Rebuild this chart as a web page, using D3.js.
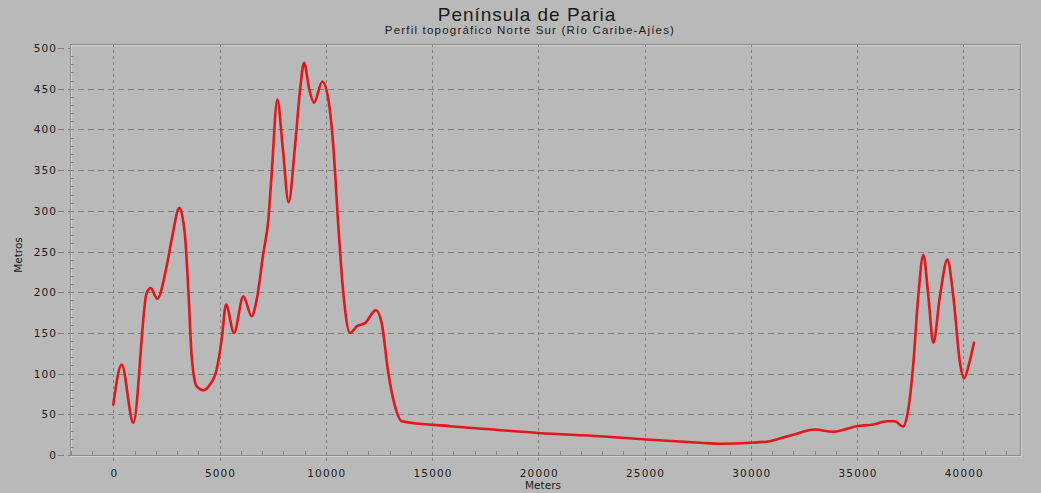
<!DOCTYPE html>
<html><head><meta charset="utf-8">
<script src="https://cdn.jsdelivr.net/npm/d3@7"></script>
<style>
html,body{margin:0;padding:0;background:#b9b9b9;}
svg{display:block;}
text{fill:#1a1a1a;}
</style></head>
<body>
<script>
const title = "Península de Paria";
const subtitle = "Perfil topográfico Norte Sur (Río Caribe-Ajíes)";
const xLabel = "Meters";
const yLabel = "Metros";
const xTicks = [0,5000,10000,15000,20000,25000,30000,35000,40000];
const yTicks = [0,50,100,150,200,250,300,350,400,450,500];
const distance = [0,395,941,1570,1760,2070,2510,2750,3110,3375,3530,3690,3925,4235,4550,4865,5100,5305,5680,6120,6510,6750,7060,7295,7455,7720,7970,8250,8550,8790,8975,9225,9445,9835,10120,10355,10590,10825,11140,11455,11845,12360,12630,12940,13255,13570,15845,18000,20000,22900,25100,27610,28550,30040,30900,32000,33020,33880,34980,35765,36395,36785,37150,37410,37650,37880,38120,38355,38590,38900,39250,39530,39845,40030,40280,40500];
const elevation = [62,111,39.6,199,205,192,232,265,303.7,269,203,121,84.5,79.6,86.6,105,142,185,150,195,170.5,191,248,289,346.7,436.7,379,310.6,379,449,481.8,449,432.7,459,436.7,379,281,199,150,158,162,178,162,101,60,41.5,35.4,31,27,23,19,15,13.8,15,17,25,31.3,28.5,35.4,37.5,41.5,41.5,35,56,113,195,246,195,138,195,240,195,113,94,113,138];

const W = 1041, H = 493;
const L = 70, R = 1020, T = 44, B = 455;
const svg = d3.select("body").append("svg").attr("width", W).attr("height", H);
svg.append("rect").attr("width", W).attr("height", H).attr("fill", "#b9b9b9");

const x = d3.scaleLinear().domain([-2038, 42668]).range([L, R]);
const y = d3.scaleLinear().domain([0, 505]).range([B, T]);

// outer light frame
svg.append("rect").attr("x", L+1.5).attr("y", T+1.5).attr("width", R-L).attr("height", B-T)
  .attr("fill", "none").attr("stroke", "#d2d2d2").attr("stroke-width", 1);

// grid
const g = svg.append("g");
g.selectAll("line.hg").data(yTicks.filter(d => d > 0 && d < 500)).enter().append("line")
  .attr("x1", L - 12).attr("x2", R).attr("y1", d => Math.round(y(d)) + 0.5).attr("y2", d => Math.round(y(d)) + 0.5)
  .attr("stroke", "#7f7f7f").attr("stroke-width", 1).attr("stroke-dasharray", "6,4");
g.selectAll("line.vg").data(xTicks).enter().append("line")
  .attr("x1", d => Math.round(x(d)) + 0.5).attr("x2", d => Math.round(x(d)) + 0.5)
  .attr("y1", T).attr("y2", B + 8)
  .attr("stroke", "#7f7f7f").attr("stroke-width", 1).attr("stroke-dasharray", "3,3");
g.selectAll("line.ye").data([0, 500]).enter().append("line")
  .attr("x1", L - 12).attr("x2", L).attr("y1", d => Math.round(y(d)) + 0.5).attr("y2", d => Math.round(y(d)) + 0.5)
  .attr("stroke", "#7f7f7f").attr("stroke-dasharray", "6,4");

// minor ticks
const xMinor = d3.range(-2000, 42001, 1000).filter(d => d % 5000 !== 0);
g.selectAll("line.xm").data(xMinor).enter().append("line")
  .attr("x1", d => Math.round(x(d)) + 0.5).attr("x2", d => Math.round(x(d)) + 0.5)
  .attr("y1", B - 4).attr("y2", B).attr("stroke", "#858585");
const yMinor = d3.range(0, 501, 10).filter(d => d % 50 !== 0);
g.selectAll("line.ym").data(yMinor).enter().append("line")
  .attr("x1", L).attr("x2", L + 4).attr("y1", d => Math.round(y(d)) + 0.5).attr("y2", d => Math.round(y(d)) + 0.5)
  .attr("stroke", "#858585");

// frame
svg.append("rect").attr("x", L + 0.5).attr("y", T + 0.5).attr("width", R - L).attr("height", B - T)
  .attr("fill", "none").attr("stroke", "#8a8a8a").attr("stroke-width", 1);

// tick labels
svg.selectAll("text.yl").data(yTicks).enter().append("text")
  .attr("x", 57).attr("y", d => y(d) + 4).attr("text-anchor", "end")
  .attr("font-family", "DejaVu Sans").attr("font-size", "10.5px").attr("letter-spacing", "1.1px")
  .text(d => d);
svg.selectAll("text.xl").data(xTicks).enter().append("text")
  .attr("x", d => x(d) + 1).attr("y", 477).attr("text-anchor", "middle")
  .attr("font-family", "DejaVu Sans").attr("font-size", "10.5px").attr("letter-spacing", "1.1px")
  .text(d => d);

// axis titles
svg.append("text").attr("x", 543).attr("y", 489).attr("text-anchor", "middle")
  .attr("font-family", "DejaVu Sans").attr("font-size", "10.5px").text(xLabel);
svg.append("text").attr("transform", "translate(22,255) rotate(-90)").attr("text-anchor", "middle")
  .attr("font-family", "DejaVu Sans").attr("font-size", "10.5px").text(yLabel);

// titles
svg.append("text").attr("x", 527).attr("y", 21).attr("text-anchor", "middle")
  .attr("font-family", "Liberation Sans").attr("font-size", "19px").attr("letter-spacing", "1px").text(title);
svg.append("text").attr("x", 530).attr("y", 34).attr("text-anchor", "middle")
  .attr("font-family", "Liberation Sans").attr("font-size", "11.5px").attr("letter-spacing", "1.2px").text(subtitle);

// profile line
const pts = distance.map((d, i) => [d, elevation[i]]);
const line = d3.line().x(d => x(d[0])).y(d => y(d[1])).curve(d3.curveMonotoneX);
svg.append("path").datum(pts).attr("d", line)
  .attr("fill", "none").attr("stroke", "#e3171b").attr("stroke-width", 2.6)
  .attr("stroke-linejoin", "round").attr("stroke-linecap", "round");
</script>
</body></html>
